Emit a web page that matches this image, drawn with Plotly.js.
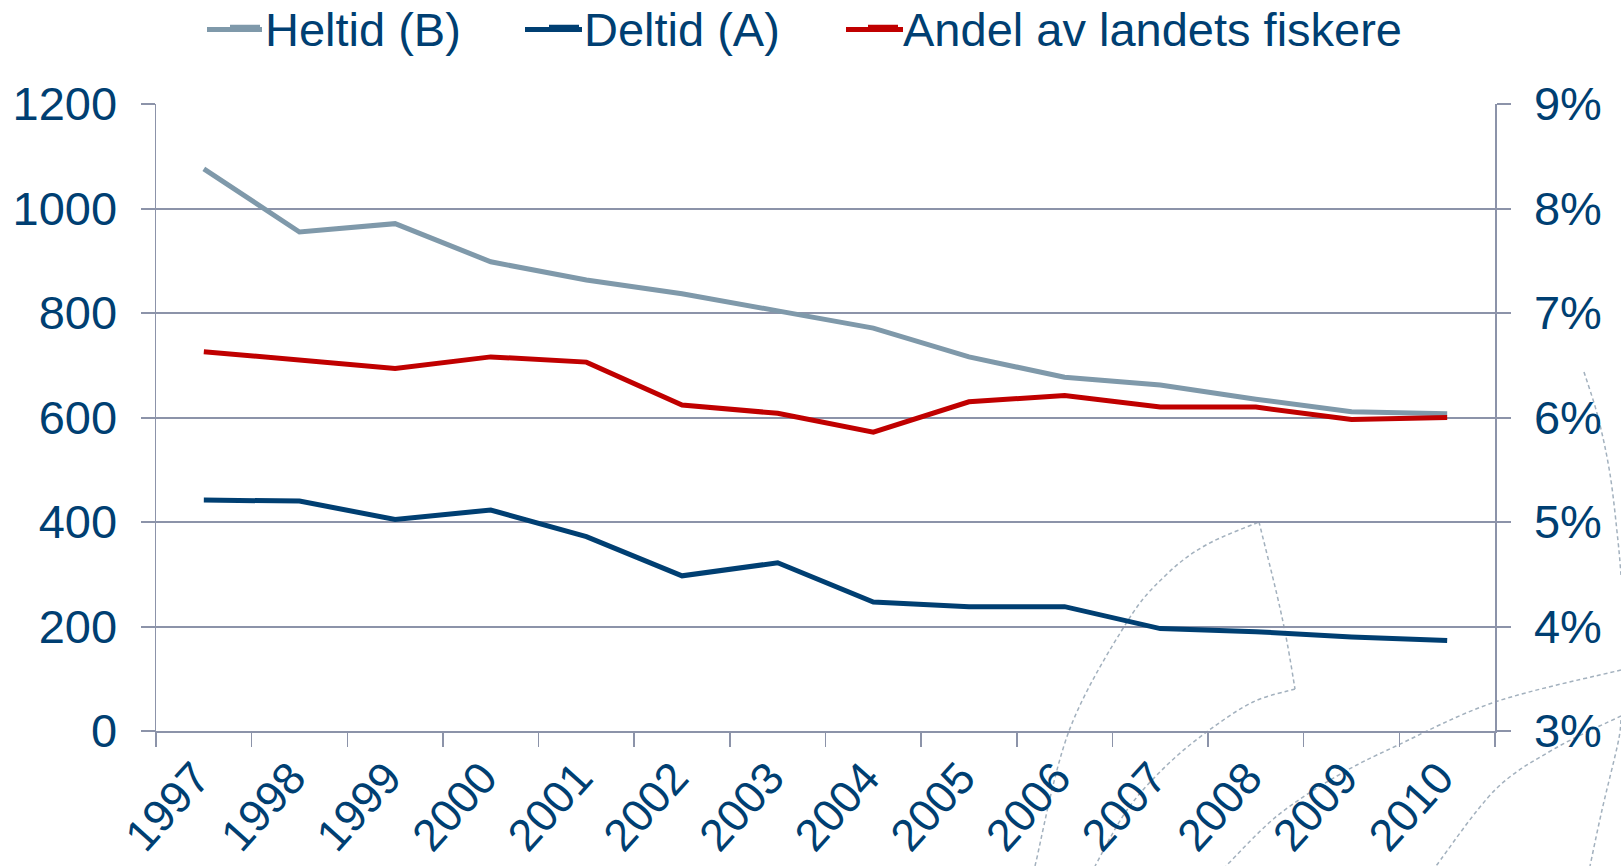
<!DOCTYPE html>
<html>
<head>
<meta charset="utf-8">
<script src="https://cdn.plot.ly/plotly-3.0.1.min.js"></script>
<style>html,body{margin:0;padding:0;background:#fff;}#chart{width:1621px;height:866px;}</style>
</head>
<body>
<div id="chart"></div>
<script>
// ---- data ----
const years = ['1997','1998','1999','2000','2001','2002','2003','2004','2005','2006','2007','2008','2009','2010'];
const heltid = [1076, 955, 971, 898, 863, 837, 804, 771, 716, 677, 662, 635, 611, 607];
const deltid = [442, 440, 405, 423, 372, 297, 322, 247, 238, 238, 196, 190, 180, 173];
const andel  = [0.0663, 0.0655, 0.0647, 0.0658, 0.0653, 0.0612, 0.0604, 0.0586, 0.0615, 0.0621, 0.0610, 0.0610, 0.0598, 0.0600];
const seriesNames = ['Heltid (B)', 'Deltid (A)', 'Andel av landets fiskere'];
const seriesColors = ['#7F99AA', '#003F72', '#C00000'];

// ---- style ----
const navy = '#003F72';
const gridC = '#8C93A9';
const font = 'Liberation Sans, Arial, sans-serif';
const fs = 47;
const W = 1621, H = 866;
const M = {l: 156, r: 126, t: 104, b: 135};
const pw = W - M.l - M.r, ph = H - M.t - M.b;

// decorative dashed watermark arcs (pixel guide points -> paper coords)
const arcs = [
  [[1035,866],[1069,731],[1127,622],[1166,575],[1206,545],[1259,522]],
  [[1259,522],[1277,595],[1287,642],[1295,689]],
  [[1295,689],[1253,702],[1208,731],[1166,766],[1127,810],[1095,866]],
  [[1621,670],[1495,702],[1396,746],[1337,776],[1277,816],[1226,866]],
  [[1621,716],[1554,749],[1495,790],[1436,866]],
  [[1584,372],[1598,417],[1610,474],[1618,541],[1621,575]],
  [[1621,720],[1618,743],[1602,810],[1590,866]]
];
function px2paper(p){ return [(p[0]-M.l)/pw, (H-M.b-p[1])/ph]; }
function smoothPath(pts){
  const q = pts.map(px2paper);
  let d = 'M' + q[0][0] + ',' + q[0][1];
  for (let i = 0; i < q.length - 1; i++) {
    const p0 = q[i-1] || q[i], p1 = q[i], p2 = q[i+1], p3 = q[i+2] || q[i+1];
    const c1 = [p1[0] + (p2[0]-p0[0])/6, p1[1] + (p2[1]-p0[1])/6];
    const c2 = [p2[0] - (p3[0]-p1[0])/6, p2[1] - (p3[1]-p1[1])/6];
    d += ' C' + c1[0] + ',' + c1[1] + ' ' + c2[0] + ',' + c2[1] + ' ' + p2[0] + ',' + p2[1];
  }
  return d;
}
const shapes = arcs.map(a => ({
  type: 'path', xref: 'paper', yref: 'paper', layer: 'below',
  path: smoothPath(a),
  line: {color: '#A3B1BE', width: 1.5, dash: '4px,3px'}
}));

// longer legend key lines (as in the reference legend)
const legendKeyPx = [[207, 262], [525, 582], [846, 903]];
const legendKeyY = 29.5;
legendKeyPx.forEach((k, i) => {
  const a = px2paper([k[0], legendKeyY]), b = px2paper([k[1], legendKeyY]);
  shapes.push({type: 'line', xref: 'paper', yref: 'paper', layer: 'above',
    x0: a[0], x1: b[0], y0: a[1], y1: b[1],
    line: {color: seriesColors[i], width: 5}});
});

const traces = [
  {x: years, y: heltid, name: seriesNames[0], type: 'scatter', mode: 'lines', legendwidth: 274,
   line: {color: seriesColors[0], width: 5}},
  {x: years, y: deltid, name: seriesNames[1], type: 'scatter', mode: 'lines', legendwidth: 274,
   line: {color: seriesColors[1], width: 5}},
  {x: years, y: andel, name: seriesNames[2], type: 'scatter', mode: 'lines', yaxis: 'y2',
   line: {color: seriesColors[2], width: 5}}
];

const layout = {
  width: W, height: H,
  margin: M,
  paper_bgcolor: '#fff', plot_bgcolor: 'rgba(0,0,0,0)',
  font: {family: font, color: navy, size: fs},
  showlegend: true,
  legend: {orientation: 'h', xref: 'container', yref: 'container', x: 225 / W, xanchor: 'left',
           y: 0.968, yanchor: 'middle', font: {family: font, size: fs, color: navy},
           itemwidth: 30, bgcolor: 'rgba(0,0,0,0)'},
  xaxis: {type: 'category', tickson: 'boundaries', ticks: 'outside', ticklen: 14, tickwidth: 1.5,
          tickcolor: gridC, showline: true, linecolor: gridC, linewidth: 2, showgrid: false,
          tickangle: -48, ticklabelshift: -8, tickfont: {family: font, size: 45, color: navy},
          zeroline: false, range: [-0.5, 13.5]},
  yaxis: {range: [0, 1200], dtick: 200, tick0: 0, ticks: 'outside', ticklen: 14, tickwidth: 2,
          tickcolor: gridC, showline: true, linecolor: gridC, linewidth: 1.5, showgrid: true,
          gridcolor: gridC, gridwidth: 2, zeroline: false,
          tickfont: {family: font, size: fs, color: navy}, ticklabelstandoff: 14},
  yaxis2: {overlaying: 'y', side: 'right', range: [0.03, 0.09], dtick: 0.01, tick0: 0.03,
           tickformat: '.0%', ticks: 'outside', ticklen: 14, tickwidth: 2, tickcolor: gridC,
           showline: true, linecolor: gridC, linewidth: 1.5, showgrid: false, zeroline: false,
           tickfont: {family: font, size: fs, color: navy}, ticklabelstandoff: 14},
  shapes: shapes
};

Plotly.newPlot('chart', traces, layout, {displayModeBar: false, staticPlot: true});
</script>
</body>
</html>
